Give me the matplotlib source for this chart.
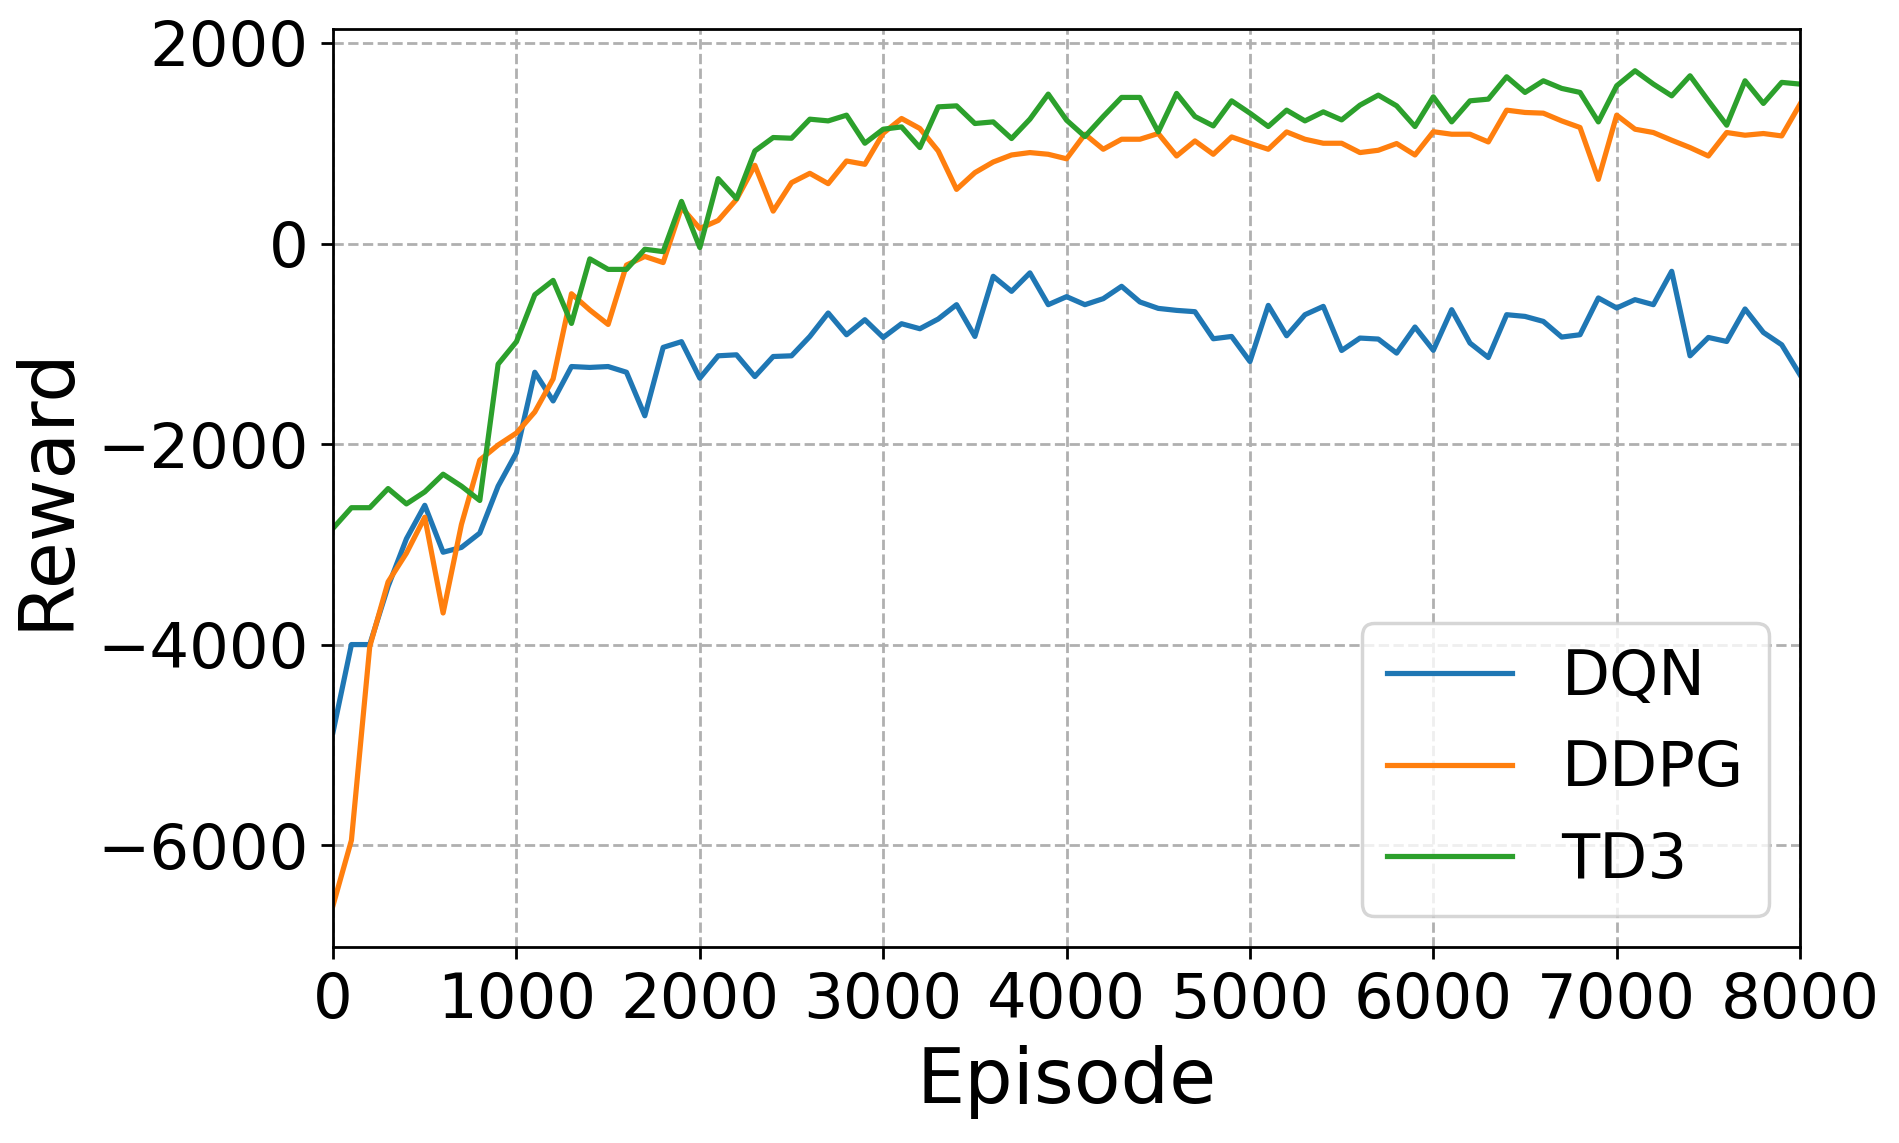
import matplotlib
matplotlib.use("Agg")
import matplotlib.pyplot as plt
import numpy as np

font = {'family': 'DejaVu Sans',
        'weight': 'normal',
        'size': 18}
matplotlib.rc('font', **font)

episodes = np.arange(0, 8001, 100)
x_ticks = [0, 1000, 2000, 3000, 4000, 5000, 6000, 7000, 8000]
y_ticks = [-6000, -4000, -2000, 0, 2000]

dqn = [-4870, -4000, -4000, -3420, -2945, -2611, -3079, -3031, -2888, -2420,
       -2086, -1284, -1570, -1227, -1236, -1227, -1284, -1718, -1036, -979,
       -1343, -1120, -1110, -1327, -1127, -1120, -927, -693, -910, -760,
       -937, -800, -850, -753, -610, -927, -327, -477, -293, -610,
       -530, -610, -550, -427, -583, -647, -667, -680, -950, -927,
       -1177, -617, -920, -710, -627, -1067, -943, -953, -1093, -833,
       -1065, -660, -993, -1137, -710, -727, -777, -933, -910, -543,
       -643, -560, -610, -277, -1120, -937, -977, -653, -887, -1010,
       -1310]

ddpg = [-6600, -5952, -4019, -3375, -3088, -2730, -3685, -2802, -2160, -2010,
        -1890, -1680, -1350, -501, -663, -807, -215, -129, -190, 360,
        150, 230, 440, 780, 323, 607, 700, 597, 823, 790,
        1100, 1247, 1147, 923, 540, 707, 813, 883, 907, 890,
        845, 1090, 940, 1040, 1040, 1097, 873, 1023, 890, 1063,
        1000, 940, 1113, 1040, 1000, 1000, 907, 930, 997, 883,
        1115, 1090, 1090, 1013, 1330, 1307, 1300, 1223, 1157, 640,
        1280, 1140, 1107, 1030, 957, 873, 1107, 1080, 1097, 1073,
        1390]

td3 = [-2840, -2635, -2635, -2444, -2597, -2477, -2301, -2420, -2563, -1203,
       -979, -511, -368, -797, -153, -258, -258, -57, -81, 420,
       -40, 647, 447, 923, 1057, 1050, 1240, 1223, 1280, 1000,
       1140, 1163, 957, 1363, 1373, 1197, 1213, 1047, 1240, 1490,
       1230, 1067, 1267, 1457, 1457, 1113, 1497, 1267, 1173, 1423,
       1300, 1167, 1330, 1223, 1313, 1233, 1380, 1480, 1373, 1167,
       1463, 1213, 1423, 1440, 1663, 1507, 1623, 1547, 1507, 1213,
       1573, 1723, 1590, 1473, 1673, 1423, 1180, 1623, 1397, 1607,
       1590]


def main():
    fig = plt.figure(figsize=(1899 / 250, 1143 / 250), dpi=250)
    plt.subplots_adjust(left=0.1754, right=0.9479, top=0.9746, bottom=0.1715)
    plt.plot(episodes, dqn, label="DQN")
    plt.plot(episodes, ddpg, label="DDPG")
    plt.plot(episodes, td3, label="TD3")
    plt.xlim(0, 8000)
    plt.xticks(x_ticks)
    plt.yticks(y_ticks)
    plt.grid(ls="--")
    plt.xlabel("Episode", fontsize=22)
    plt.ylabel("Reward", fontsize=22)
    plt.legend(loc="lower right")
    plt.savefig("out.png", dpi=250)


if __name__ == "__main__":
    main()
